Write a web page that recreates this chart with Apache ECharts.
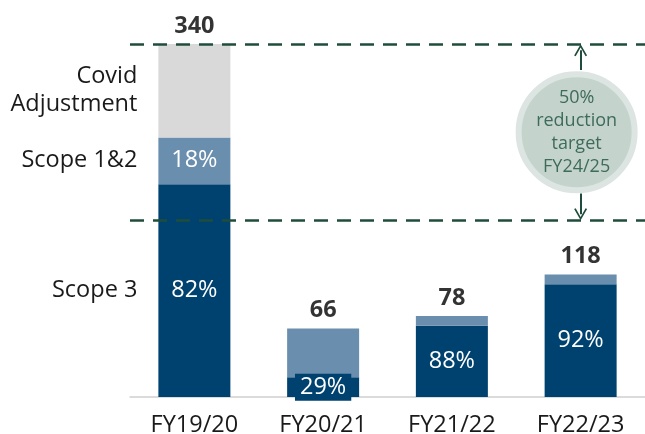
<!DOCTYPE html>
<html>
<head>
<meta charset="utf-8">
<script src="https://cdn.jsdelivr.net/npm/echarts@6/dist/echarts.min.js"></script>
<style>
  html, body { margin: 0; padding: 0; background: #fff; }
  #main { width: 645px; height: 434px; }
</style>
</head>
<body>
<div id="main"></div>
<script>
var years = ['FY19/20', 'FY20/21', 'FY21/22', 'FY22/23']
var scope3 = [205, 19, 68.6, 108.6]
var scope12 = [45, 47, 9.4, 9.4]
var covidAdj = [90, '-', '-', '-']
var scope3Pct = ['82%', '29%', '88%', '92%']
var scope12Pct = ['18%', '', '', '']
var totals = [340, 66, 78, 118]
var rowNames = ['Scope 3', 'Scope 1&2', 'Covid\nAdjustment']
var baseLine = 340
var targetLine = 170
var targetText = '50%\nreduction\ntarget\nFY24/25'
// arrow ends (value units) from circle edge to the dashed lines
var arrowTop = [315, 334]
var arrowBottom = [196, 176]

var FONT = '"Open Sans", "Noto Sans", sans-serif'
var FS = 23.5
var DARK = '#00426F'
var MID = '#6A8EAE'
var GREY = '#D9D9D9'
var GREEN = '#1F4D3B'

var chevron = 'path://M0,10 L5,0 L10,10 L8.8,10.6 L5,2.8 L1.2,10.6 Z'

function onlyFirst(arr) {
	return arr.map(function (v, i) { return i === 0 ? v : '-' })
}

function nameSeries(name, data) {
	// transparent overlay on the first bar, just to carry the row name on the left
	return {
		name: 'label-' + name,
		type: 'bar',
		stack: 'names',
		barWidth: 72,
		barGap: '-100%',
		silent: true,
		itemStyle: { color: 'rgba(0,0,0,0)' },
		label: {
			show: true,
			position: 'left',
			distance: 21,
			formatter: name,
			fontFamily: FONT,
			fontSize: FS,
			lineHeight: 28,
			align: 'right',
			color: '#1a1a1a'
		},
		data: onlyFirst(data)
	}
}

var chart = echarts.init(document.getElementById('main'), null, { renderer: 'canvas' })

var option = {
	animation: false,
	grid: { left: 130, right: 0, top: 44, bottom: 37, outerBoundsMode: 'none', containLabel: false },
	xAxis: {
		type: 'category',
		data: years,
		axisLine: { lineStyle: { color: '#D0D0D0', width: 1.5 } },
		axisTick: { show: false },
		axisLabel: { fontFamily: FONT, fontSize: FS, color: '#1a1a1a', margin: 16 }
	},
	yAxis: {
		type: 'value',
		min: 0,
		max: baseLine,
		show: false,
		splitLine: { show: false }
	},
	series: [
		{
			name: 'Scope 3',
			type: 'bar',
			stack: 'total',
			barWidth: 72,
			barGap: '-100%',
			itemStyle: { color: DARK },
			label: {
				show: true,
				position: 'inside',
				fontFamily: FONT,
				fontSize: FS,
				color: '#fff',
				formatter: function (p) { return scope3Pct[p.dataIndex] }
			},
			data: scope3.map(function (v, i) {
				if (i === 1) {
					return { value: v, label: { backgroundColor: DARK, padding: [2, 5, 1, 5] } }
				}
				return v
			})
		},
		{
			name: 'Scope 1&2',
			type: 'bar',
			stack: 'total',
			barWidth: 72,
			itemStyle: { color: MID },
			label: {
				show: true,
				position: 'inside',
				fontFamily: FONT,
				fontSize: FS,
				color: '#fff',
				formatter: function (p) { return scope12Pct[p.dataIndex] }
			},
			data: scope12
		},
		{
			name: 'Covid Adjustment',
			type: 'bar',
			stack: 'total',
			barWidth: 72,
			itemStyle: { color: GREY },
			data: covidAdj
		},
		nameSeries(rowNames[0], scope3),
		nameSeries(rowNames[1], scope12),
		nameSeries(rowNames[2], covidAdj),
		{
			name: 'totals',
			type: 'scatter',
			symbolSize: 0,
			silent: true,
			label: {
				show: true,
				position: 'top',
				distance: 6,
				fontFamily: FONT,
				fontSize: FS,
				fontWeight: 'bold',
				color: '#000'
			},
			data: totals,
			markLine: {
				silent: true,
				symbol: ['none', 'none'],
				label: { show: false },
				lineStyle: { color: GREEN, width: 2.5, type: [14, 9] },
				data: [{ yAxis: baseLine }, { yAxis: targetLine }]
			},
			markPoint: {
				silent: true,
				symbol: 'circle',
				symbolSize: 116,
				symbolOffset: [-4, 0],
				itemStyle: { color: '#C4D4CD', borderColor: '#DCE5E1', borderWidth: 6 },
				label: {
					show: true,
					formatter: targetText,
					fontFamily: FONT,
					fontSize: 18,
					lineHeight: 23,
					color: '#3E6B5B'
				},
				data: [{ coord: [years[3], (baseLine + targetLine) / 2] }]
			}
		},
		{
			name: 'arrows',
			type: 'line',
			data: [],
			markLine: {
				silent: true,
				symbol: ['none', chevron],
				symbolSize: [13, 12],
				label: { show: false },
				lineStyle: { color: GREEN, width: 2, type: 'solid' },
				data: [
					[{ coord: [years[3], arrowTop[0]] }, { coord: [years[3], arrowTop[1]] }],
					[{ coord: [years[3], arrowBottom[0]] }, { coord: [years[3], arrowBottom[1]] }]
				]
			}
		}
	]
}

chart.setOption(option)
</script>
</body>
</html>
